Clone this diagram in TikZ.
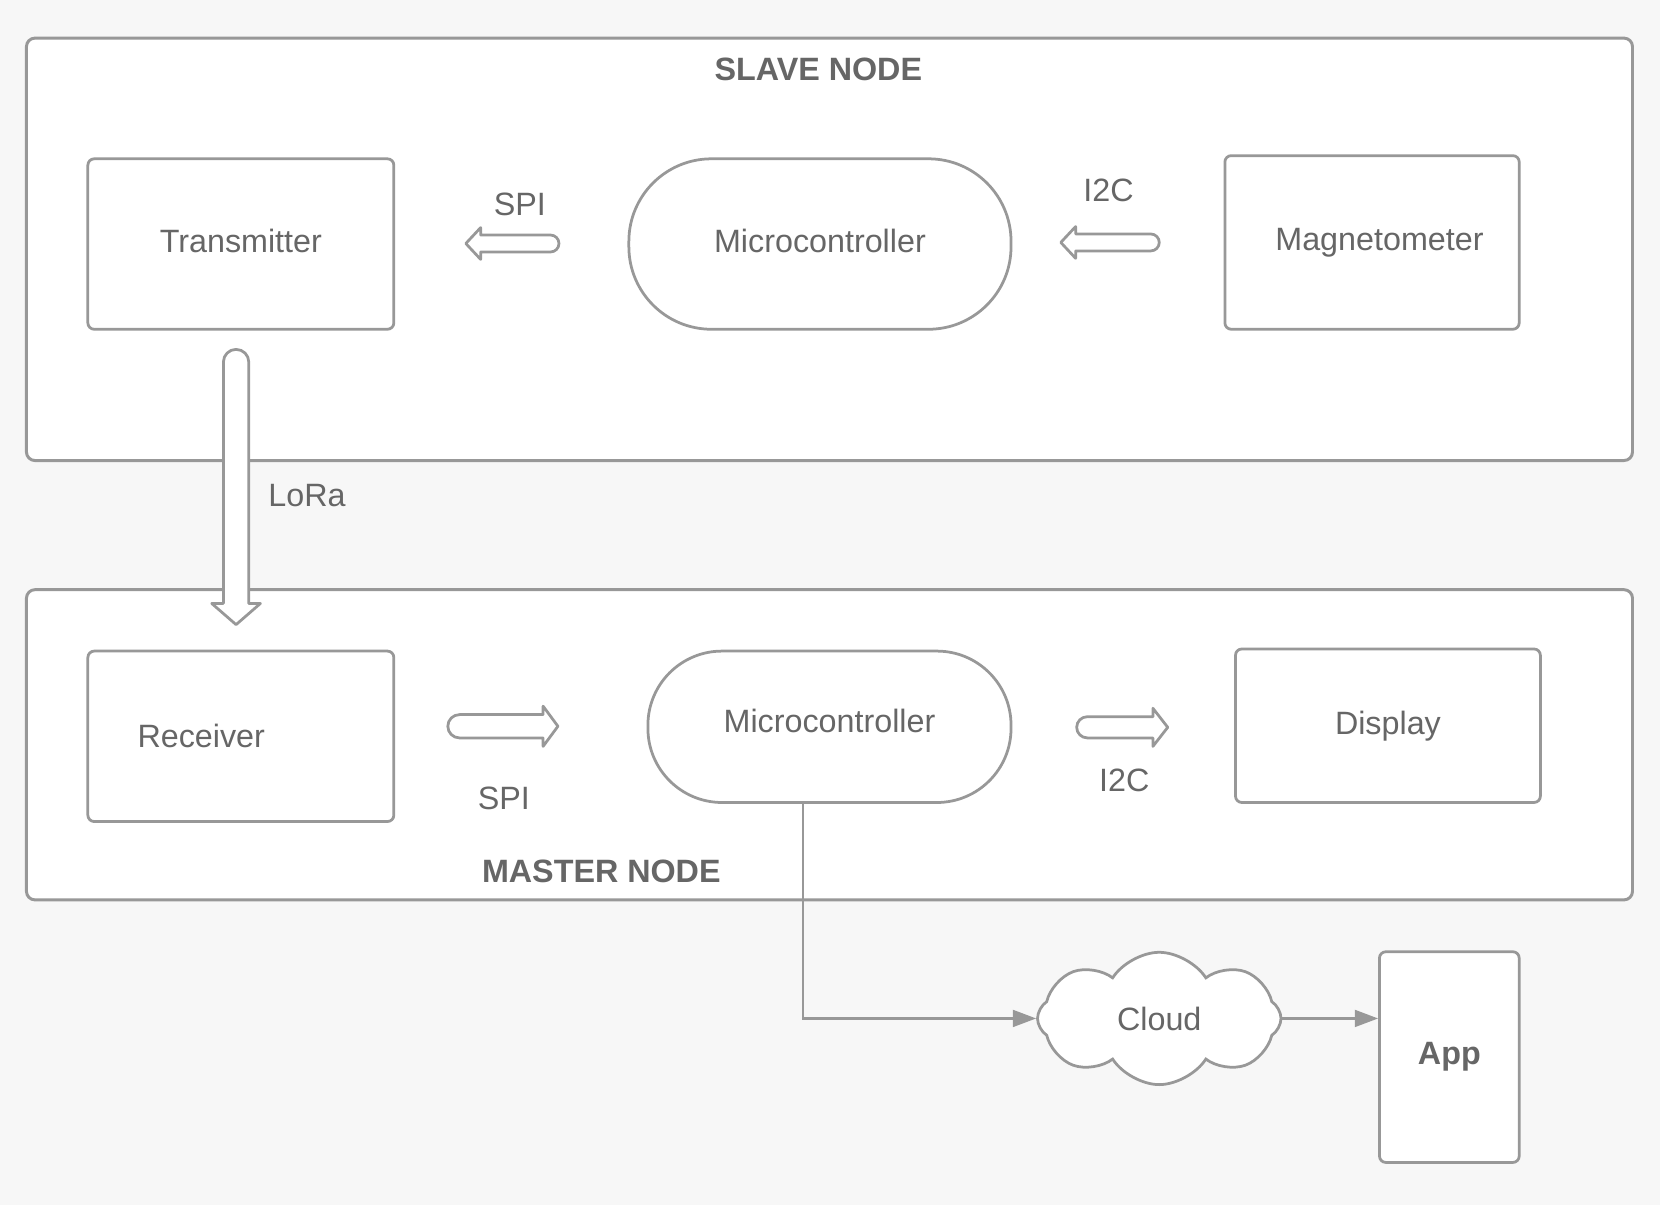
\documentclass[tikz,border=0pt]{standalone}
\usepackage{fontspec}
\setmainfont{Liberation Sans}
\usetikzlibrary{positioning}
\usetikzlibrary{shapes.symbols}
\usetikzlibrary{arrows.meta}
\usetikzlibrary{calc}

\definecolor{linegray}{RGB}{152,152,152}
\definecolor{textgray}{RGB}{102,102,102}
\definecolor{paper}{RGB}{247,247,247}

\begin{document}
\begin{tikzpicture}[x=1pt, y=-1pt, line width=2.4pt,
    every node/.style={text=textgray, inner sep=0, font=\fontsize{30.5}{36}\selectfont},
    frame/.style={draw=linegray, fill=white, rounded corners=8, line width=2.8pt},
    box/.style={draw=linegray, fill=white, rounded corners=6, line width=2.6pt},
    mcu/.style={draw=linegray, fill=white, line width=2.6pt},
    title/.style={font=\bfseries\fontsize{30.5}{36}\selectfont},
    conn/.style={draw=linegray, line width=2pt, -{Triangle[length=22pt, width=16pt]}},
    fatline/.style={draw=linegray, fill=white, line width=2.6pt, line join=round},
    pics/fatarrow/.style n args={4}{code={
        \draw[fatline] (0,-#2) -- (#1-#4,-#2) -- (#1-#4,-#3) -- (#1,0) -- (#1-#4,#3)
          -- (#1-#4,#2) -- (0,#2) arc[start angle=90, end angle=270, radius=#2] -- cycle;}}]

  % Paper and margins
  \fill[paper] (0,0) rectangle (1568,1138);
  \useasboundingbox (0,0) rectangle (1568,1138);

  % The two node frames
  \node[frame, minimum width=1517, minimum height=399] (slave) at (783.5,235.5) {};
  \node[frame, minimum width=1517, minimum height=293] (master) at (783.5,703.5) {};
  \node[title] (slavetitle) at (773,66) {SLAVE NODE};
  \node[title] (mastertitle) at (568,823) {MASTER NODE};

  % Slave node parts
  \node[box, minimum width=289, minimum height=161, text depth=7pt] (tx) at (227.5,230.5) {Transmitter};
  \node[mcu, minimum width=361, minimum height=161, rounded corners=78, text depth=6pt] (mcs) at (774.5,230.5) {Microcontroller};
  \node[box, minimum width=278, minimum height=164] (mag) at (1296,229) {};
  \node (magtext) at (1303,229) {Magnetometer};

  % Master node parts
  \node[box, minimum width=289, minimum height=161] (rx) at (227.5,695.5) {};
  \node[anchor=west] (rxtext) at ($(rx.west)+(47,0)$) {Receiver};
  \node[mcu, minimum width=343, minimum height=143, rounded corners=70, text depth=11pt] (mcm) at (783.5,686.5) {Microcontroller};
  \node[box, minimum width=288, minimum height=145] (disp) at (1311,685.5) {Display};

  % Cloud and app
  \node[cloud, cloud puffs=8, cloud puff arc=115, aspect=1.8, draw=linegray, fill=white,
        line width=2.6pt, minimum width=230, minimum height=125] (cloud) at (1095,962) {Cloud};
  \node[box, minimum width=132, minimum height=199, title] (app) at (1369,998.5) {App};

  % Bus arrows
  \pic[rotate=180] at (520,230) {fatarrow={80}{8}{15}{14}};
  \pic[rotate=180] at (1087,229) {fatarrow={85}{8}{15}{14}};
  \pic at (434,686) {fatarrow={93}{11}{19}{14}};
  \pic at (1027,687) {fatarrow={76}{10}{18}{14}};
  \pic[rotate=-90] at (223,342) {fatarrow={248}{12}{23}{20}};

  \node (spis) at (491,193) {SPI};
  \node (i2cs) at (1047,180) {I2C};
  \node (lora) at (290,468) {LoRa};
  \node (spim) at (476,754) {SPI};
  \node (i2cm) at (1062,737) {I2C};

  % Uplink
  \draw[conn] ($(mcm.south)+(-25,0)$) |- (cloud.west);
  \draw[conn] (cloud.east) -- (cloud.east -| app.west);
\end{tikzpicture}
\end{document}
